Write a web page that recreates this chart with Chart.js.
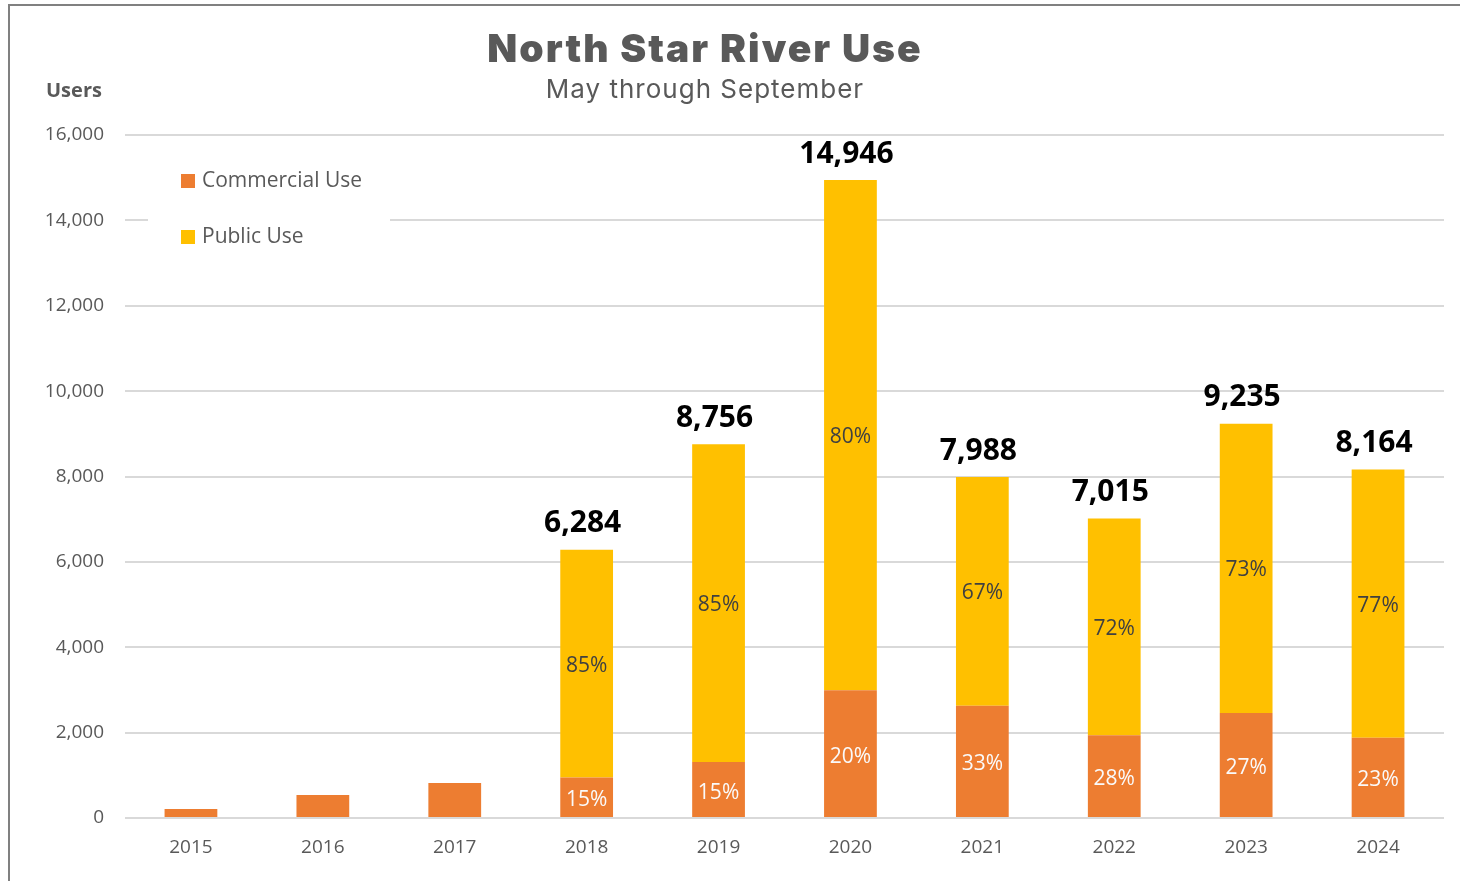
<!DOCTYPE html>
<html>
<head>
<meta charset="utf-8">
<script src="https://cdn.jsdelivr.net/npm/chart.js@4.4.1/dist/chart.umd.min.js"></script>
<style>
  body { margin: 0; background: #fff; }
  #wrap { width: 1460px; height: 881px; position: relative; }
</style>
</head>
<body>
<div id="wrap"><canvas id="river-chart"></canvas></div>
<script>
// values
const years = ['2015', '2016', '2017', '2018', '2019', '2020', '2021', '2022', '2023', '2024'];
const commercialUse = [210, 540, 820, 950, 1310, 2990, 2630, 1940, 2460, 1880];
const publicUse = [0, 0, 0, 5334, 7446, 11956, 5358, 5075, 6775, 6284];
const totalLabels = [null, null, null, '6,284', '8,756', '14,946', '7,988', '7,015', '9,235', '8,164'];
const commercialPct = [null, null, null, '15%', '15%', '20%', '33%', '28%', '27%', '23%'];
const publicPct = [null, null, null, '85%', '85%', '80%', '67%', '72%', '73%', '77%'];
const yTicks = [0, 2000, 4000, 6000, 8000, 10000, 12000, 14000, 16000];

const ORANGE = '#ED7D31';
const YELLOW = '#FFC000';
const GREY = '#595959';
const FONT = '"Open Sans", sans-serif';

// frame, title, subtitle, axis name
const decorPlugin = {
  id: 'decor',
  beforeDraw(chart) {
    const ctx = chart.ctx;
    ctx.save();
    ctx.fillStyle = '#fff';
    ctx.fillRect(0, 0, chart.width, chart.height);
    ctx.strokeStyle = '#808080';
    ctx.lineWidth = 2;
    ctx.beginPath();
    ctx.moveTo(9, chart.height + 5);
    ctx.lineTo(9, 5);
    ctx.lineTo(chart.width + 5, 5);
    ctx.stroke();
    ctx.restore();
  },
  afterDraw(chart) {
    const ctx = chart.ctx;
    ctx.save();
    ctx.textAlign = 'center';
    ctx.textBaseline = 'middle';
    ctx.fillStyle = GREY;
    ctx.letterSpacing = '2px';
    ctx.font = '900 39px Inter, sans-serif';
    ctx.fillText('North Star River Use', 705, 50);
    ctx.letterSpacing = '1px';
    ctx.font = '400 26px Inter, sans-serif';
    ctx.fillText('May through September', 705, 90);
    ctx.letterSpacing = '0px';
    ctx.textAlign = 'left';
    ctx.font = 'bold 20px ' + FONT;
    ctx.fillText('Users', 46, 91);
    ctx.restore();
  }
};

// legend box drawn inside the plot, covering the gridline
const legendPlugin = {
  id: 'insideLegend',
  afterDatasetsDraw(chart) {
    const ctx = chart.ctx;
    ctx.save();
    ctx.fillStyle = '#fff';
    ctx.fillRect(148, 158, 242, 100);
    const items = [['Commercial Use', ORANGE, 181], ['Public Use', YELLOW, 237]];
    ctx.font = '21px ' + FONT;
    ctx.textBaseline = 'middle';
    items.forEach(it => {
      ctx.fillStyle = it[1];
      ctx.fillRect(181, it[2] - 7, 14, 14);
      ctx.fillStyle = GREY;
      ctx.fillText(it[0], 202, it[2]);
    });
    ctx.restore();
  }
};

// percentages inside segments and totals above stacks
const labelPlugin = {
  id: 'barLabels',
  afterDatasetsDraw(chart) {
    const ctx = chart.ctx;
    const commMeta = chart.getDatasetMeta(0);
    const pubMeta = chart.getDatasetMeta(1);
    ctx.save();
    ctx.textAlign = 'center';
    ctx.textBaseline = 'middle';
    ctx.font = '21px ' + FONT;
    commMeta.data.forEach((bar, i) => {
      if (!commercialPct[i]) return;
      ctx.fillStyle = '#fafafa';
      ctx.fillText(commercialPct[i], bar.x, (bar.y + bar.base) / 2 + 3);
    });
    pubMeta.data.forEach((bar, i) => {
      if (!publicPct[i]) return;
      ctx.fillStyle = '#404040';
      ctx.fillText(publicPct[i], bar.x, (bar.y + bar.base) / 2 + 2);
    });
    ctx.font = 'bold 30px ' + FONT;
    ctx.fillStyle = '#000';
    pubMeta.data.forEach((bar, i) => {
      if (!totalLabels[i]) return;
      ctx.fillText(totalLabels[i], bar.x - 4, bar.y - 26);
    });
    ctx.restore();
  }
};

const config = {
  type: 'bar',
  data: {
    labels: years,
    datasets: [
      { label: 'Commercial Use', data: commercialUse, backgroundColor: ORANGE },
      { label: 'Public Use', data: publicUse, backgroundColor: YELLOW }
    ]
  },
  options: {
    responsive: true,
    maintainAspectRatio: false,
    animation: false,
    datasets: { bar: { categoryPercentage: 1, barPercentage: 0.4 } },
    layout: { padding: { top: 135, right: 16, left: 0, bottom: 0 } },
    plugins: {
      legend: { display: false },
      tooltip: { enabled: false }
    },
    scales: {
      x: {
        stacked: true,
        grid: { display: false, drawTicks: false },
        border: { display: false },
        ticks: { color: GREY, font: { family: FONT, size: 19 }, padding: 18 },
        afterFit(scale) { scale.height = 63; }
      },
      y: {
        stacked: true,
        min: 0,
        max: 16000,
        afterBuildTicks(scale) { scale.ticks = yTicks.map(v => ({ value: v })); },
        grid: { color: '#d9d9d9', lineWidth: 2, drawTicks: false },
        border: { display: false },
        ticks: {
          color: GREY,
          font: { family: FONT, size: 19 },
          padding: 21,
          callback: v => v.toLocaleString('en-US')
        },
        afterFit(scale) { scale.width = 125; }
      }
    }
  },
  plugins: [decorPlugin, legendPlugin, labelPlugin]
};

new Chart(document.getElementById('river-chart'), config);
</script>
</body>
</html>
